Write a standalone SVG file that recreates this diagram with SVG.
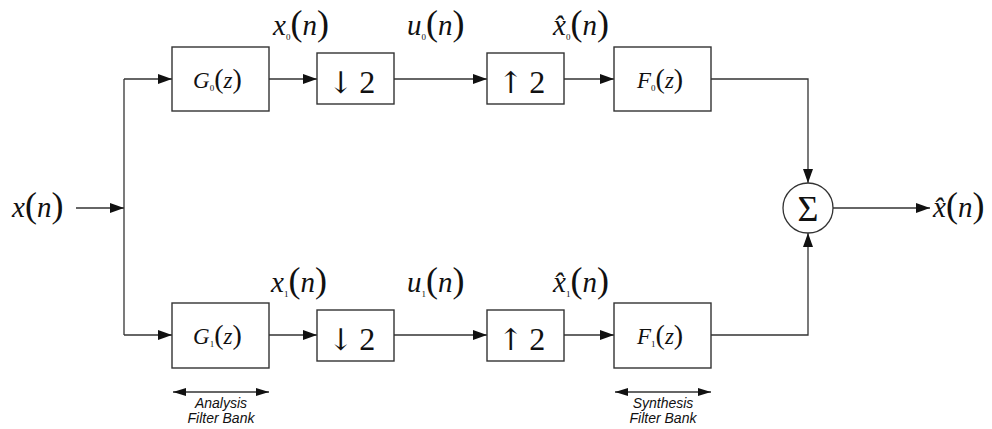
<svg xmlns="http://www.w3.org/2000/svg" width="992" height="429" viewBox="0 0 992 429">
<style>
.box{fill:#fff;stroke:#333;stroke-width:1.4}
.ln{fill:none;stroke:#333;stroke-width:1.3}
.m{font-family:"Liberation Serif","Times New Roman",serif;fill:#111}
.it{font-style:italic}
.par{font-size:36px}
.sub{font-size:9px;font-style:normal}
.lbl{font-size:29px}
.blk{font-size:23px}
.rs{font-size:32px}
.arr{font-family:"DejaVu Serif","DejaVu Sans",serif;font-size:30px}
.fb{font-family:"Liberation Sans",Arial,sans-serif;font-style:italic;font-size:14px;fill:#111;text-anchor:middle}
</style>
<defs>
<marker id="ah" viewBox="0 0 14 10" refX="14" refY="5" markerWidth="14" markerHeight="10" markerUnits="userSpaceOnUse" orient="auto-start-reverse"><path d="M0,0 L14,5 L0,10 z" fill="#111"/></marker>
<marker id="ah2" viewBox="0 0 13 8" refX="13" refY="4" markerWidth="13" markerHeight="8" markerUnits="userSpaceOnUse" orient="auto-start-reverse"><path d="M0,0 L13,4 L0,8 z" fill="#111"/></marker>
</defs>
<rect width="992" height="429" fill="#fff"/>

<g id="connectors">
<path class="ln" d="M76,208 H124" marker-end="url(#ah)"/>
<path class="ln" d="M124,79 V335"/>
<path class="ln" d="M124,79 H172" marker-end="url(#ah)"/>
<path class="ln" d="M124,335 H172" marker-end="url(#ah)"/>
<path class="ln" d="M269,79 H317" marker-end="url(#ah)"/>
<path class="ln" d="M394,79 H487" marker-end="url(#ah)"/>
<path class="ln" d="M564,79 H614" marker-end="url(#ah)"/>
<path class="ln" d="M711,79 H808 V183" marker-end="url(#ah)"/>
<path class="ln" d="M269,335 H317" marker-end="url(#ah)"/>
<path class="ln" d="M394,335 H487" marker-end="url(#ah)"/>
<path class="ln" d="M564,335 H614" marker-end="url(#ah)"/>
<path class="ln" d="M711,335 H808 V233" marker-end="url(#ah)"/>
<path class="ln" d="M833,208 H930" marker-end="url(#ah)"/>
<path class="ln" d="M173,392 H269" marker-start="url(#ah2)" marker-end="url(#ah2)"/>
<path class="ln" d="M615,392 H711" marker-start="url(#ah2)" marker-end="url(#ah2)"/>
</g>

<g id="input">
<text class="m lbl" x="12" y="217"><tspan class="it">x</tspan><tspan class="par">(</tspan><tspan class="it">n</tspan><tspan class="par">)</tspan></text>
</g>

<g id="G0">
<rect class="box" x="172" y="47" width="97" height="64"/>
<text class="m blk" x="193" y="88"><tspan class="it">G</tspan><tspan class="sub" dy="3">0</tspan><tspan font-size="28" dy="-3">(</tspan><tspan class="it">z</tspan><tspan font-size="28">)</tspan></text>
</g>
<g id="D0">
<rect class="box" x="317" y="53" width="77" height="51"/>
<text class="m rs" x="328" y="93"><tspan class="arr">↓</tspan><tspan dx="6">2</tspan></text>
</g>
<g id="U0">
<rect class="box" x="487" y="53" width="77" height="51"/>
<text class="m rs" x="498" y="93"><tspan class="arr">↑</tspan><tspan dx="6">2</tspan></text>
</g>
<g id="F0">
<rect class="box" x="614" y="47" width="97" height="64"/>
<text class="m blk" x="637" y="88"><tspan class="it">F</tspan><tspan class="sub" dy="3">0</tspan><tspan font-size="28" dy="-3">(</tspan><tspan class="it">z</tspan><tspan font-size="28">)</tspan></text>
</g>

<g id="G1">
<rect class="box" x="172" y="303" width="97" height="65"/>
<text class="m blk" x="193" y="344"><tspan class="it">G</tspan><tspan class="sub" dy="3">1</tspan><tspan font-size="28" dy="-3">(</tspan><tspan class="it">z</tspan><tspan font-size="28">)</tspan></text>
</g>
<g id="D1">
<rect class="box" x="317" y="310" width="77" height="51"/>
<text class="m rs" x="328" y="350"><tspan class="arr">↓</tspan><tspan dx="6">2</tspan></text>
</g>
<g id="U1">
<rect class="box" x="487" y="310" width="77" height="51"/>
<text class="m rs" x="498" y="350"><tspan class="arr">↑</tspan><tspan dx="6">2</tspan></text>
</g>
<g id="F1">
<rect class="box" x="614" y="303" width="97" height="65"/>
<text class="m blk" x="637" y="344"><tspan class="it">F</tspan><tspan class="sub" dy="3">1</tspan><tspan font-size="28" dy="-3">(</tspan><tspan class="it">z</tspan><tspan font-size="28">)</tspan></text>
</g>

<g id="sum">
<circle cx="808" cy="208" r="25" fill="#fff" stroke="#333" stroke-width="1.3"/>
<text class="m" x="808" y="221" font-size="36" text-anchor="middle">Σ</text>
</g>

<g id="output">
<text class="m lbl" x="933" y="217"><tspan class="it">x̂</tspan><tspan class="par">(</tspan><tspan class="it">n</tspan><tspan class="par">)</tspan></text>
</g>

<g id="labels">
<text class="m lbl" x="273" y="35"><tspan class="it">x</tspan><tspan class="sub" dy="5">0</tspan><tspan class="par" dy="-5">(</tspan><tspan class="it">n</tspan><tspan class="par">)</tspan></text>
<text class="m lbl" x="407" y="35"><tspan class="it">u</tspan><tspan class="sub" dy="5">0</tspan><tspan class="par" dy="-5">(</tspan><tspan class="it">n</tspan><tspan class="par">)</tspan></text>
<text class="m lbl" x="553" y="35"><tspan class="it">x̂</tspan><tspan class="sub" dy="5">0</tspan><tspan class="par" dy="-5">(</tspan><tspan class="it">n</tspan><tspan class="par">)</tspan></text>
<text class="m lbl" x="271" y="292"><tspan class="it">x</tspan><tspan class="sub" dy="5">1</tspan><tspan class="par" dy="-5">(</tspan><tspan class="it">n</tspan><tspan class="par">)</tspan></text>
<text class="m lbl" x="407" y="292"><tspan class="it">u</tspan><tspan class="sub" dy="5">1</tspan><tspan class="par" dy="-5">(</tspan><tspan class="it">n</tspan><tspan class="par">)</tspan></text>
<text class="m lbl" x="553" y="292"><tspan class="it">x̂</tspan><tspan class="sub" dy="5">1</tspan><tspan class="par" dy="-5">(</tspan><tspan class="it">n</tspan><tspan class="par">)</tspan></text>
</g>

<g id="analysis">
<text class="fb" x="221" y="408">Analysis</text>
<text class="fb" x="221" y="423">Filter Bank</text>
</g>
<g id="synthesis">
<text class="fb" x="663" y="408">Synthesis</text>
<text class="fb" x="663" y="423">Filter Bank</text>
</g>
</svg>
